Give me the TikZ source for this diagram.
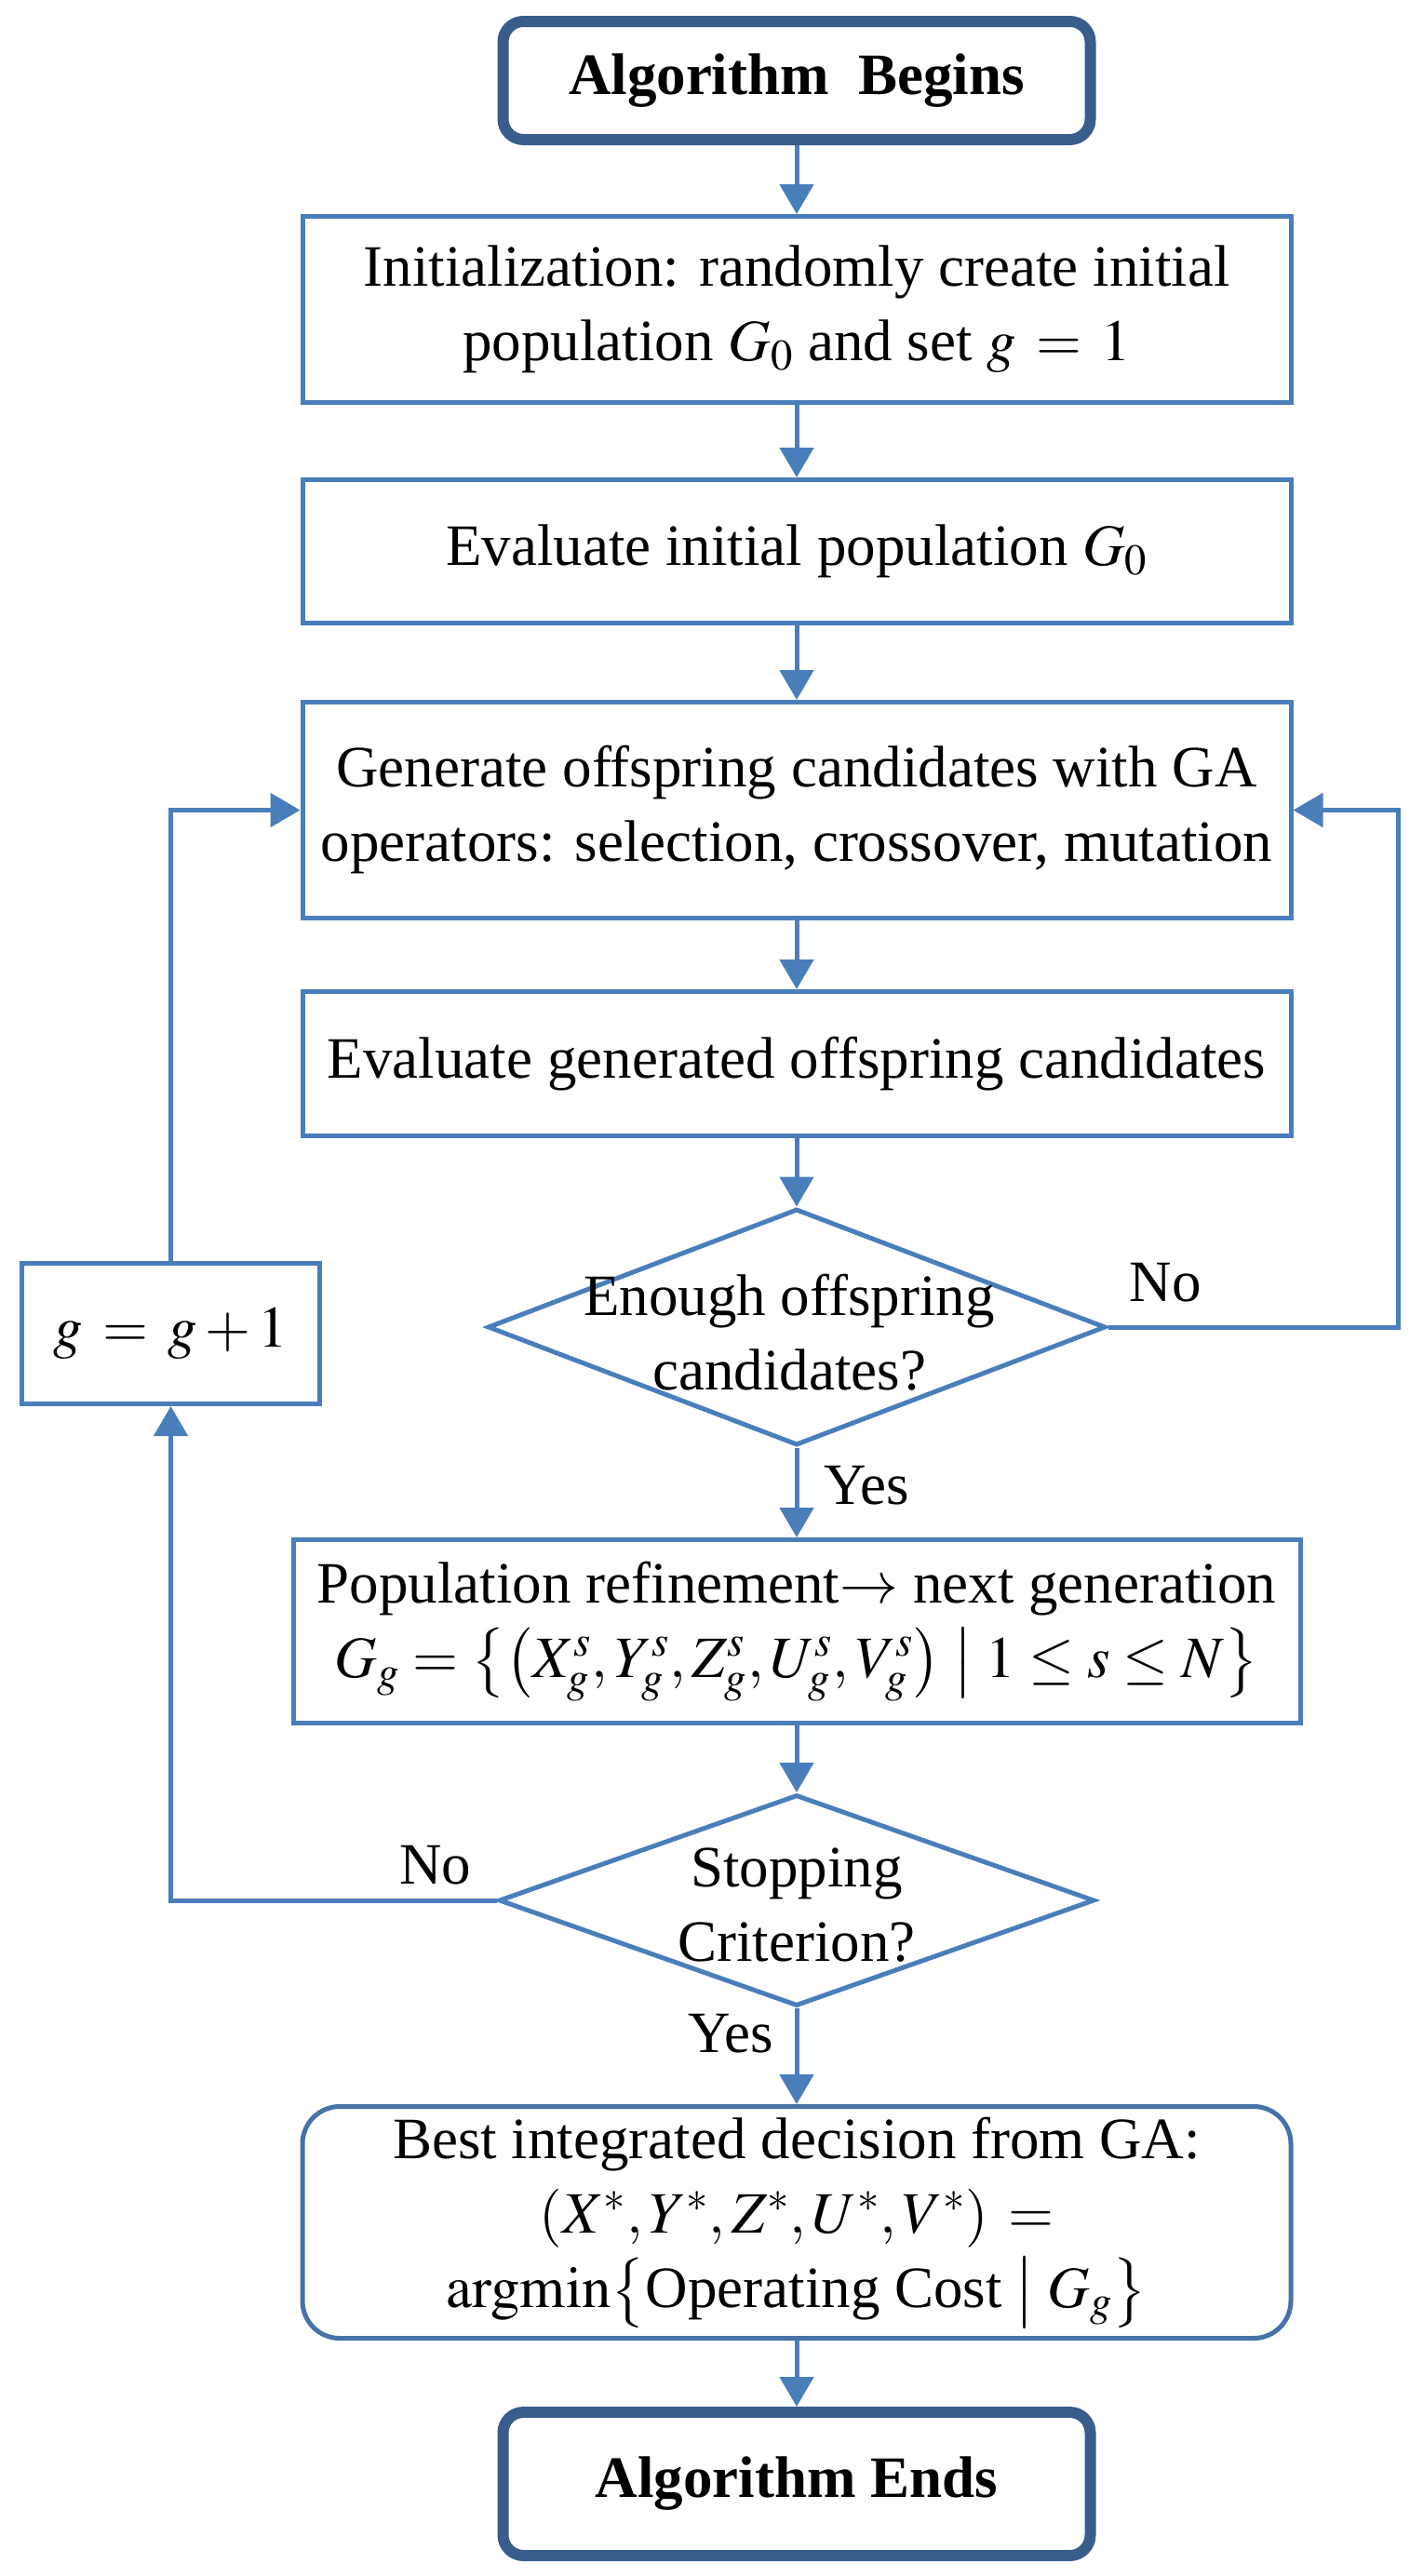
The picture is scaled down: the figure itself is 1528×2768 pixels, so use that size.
\documentclass[tikz,border=0pt]{standalone}
\usepackage{amsmath}
\usepackage{mathptmx}
\usepackage{fontspec}
\setmainfont{Liberation Serif}
\usetikzlibrary{arrows.meta,shapes.geometric}
\definecolor{lineblue}{RGB}{74,126,187}
\definecolor{termblue}{RGB}{56,93,138}
\definecolor{bestblue}{RGB}{70,114,168}
\begin{document}
\begin{tikzpicture}[x=0.5pt,y=-0.5pt,
  font=\fontsize{31.5}{40}\selectfont,
  box/.style={draw=lineblue, line width=2.5pt, rectangle, minimum width=531pt, inner sep=0pt, align=center},
  term/.style={draw=termblue, line width=6pt, rounded corners=11pt, minimum width=315.5pt, minimum height=63.5pt, inner sep=0pt, font=\fontsize{31.5}{40}\selectfont\bfseries},
  dia/.style={draw=lineblue, line width=2.5pt, diamond, inner sep=0pt},
  conn/.style={draw=lineblue, line width=2.5pt, -{Triangle[length=16pt,width=18pt]}},
  lbl/.style={inner sep=0pt}
]
\useasboundingbox (0,0) rectangle (1528,2768);

\node[term] (begin) at (856,86.5) {Algorithm\ \ Begins};
\node[box, minimum height=100pt] (init) at (856,332.5) {Initialization: randomly create initial\\ population $G_0$ and set $g\,=\,1$};
\node[box, minimum height=77pt] (evi) at (856,592.5) {Evaluate initial population $G_0$};
\node[box, minimum height=116pt] (gen) at (856,870.5) {Generate offspring candidates with GA\\ operators: selection, crossover, mutation};
\node[box, minimum height=77.5pt] (evg) at (856,1143) {Evaluate generated offspring candidates};
\node[dia, minimum width=332pt, minimum height=127pt] (d1) at (856,1426) {};
\node[align=center, inner sep=0pt] (d1t) at (848,1432) {Enough offspring\\ candidates?};
\node[box, minimum width=160pt, minimum height=75.5pt] (gbox) at (183.5,1433) {$g\,=\,g+1$};
\node[box, minimum width=541pt, minimum height=98.5pt] (pop) at (856,1753) {Population refinement$\rightarrow$ next generation\\ $G_g=\bigl\{\bigl(X_g^s,Y_g^s,Z_g^s,U_g^s,V_g^s\bigr)\bigm|1\le s\le N\bigr\}$};
\node[dia, minimum width=320pt, minimum height=113.5pt] (d2) at (856,2042) {};
\node[align=center, inner sep=0pt] (d2t) at (856,2047) {Stopping\\ Criterion?};
\node[box, draw=bestblue, rounded corners=20pt, minimum height=124.5pt] (best) at (856,2388) {Best integrated decision from GA:\\ $(X^*,Y^*,Z^*,U^*,V^*)\,=$\\ $\mathrm{argmin}\bigl\{\text{Operating Cost}\bigm| G_g\bigr\}$};
\node[term, minimum height=77pt] (end) at (856,2669) {Algorithm Ends};

\coordinate (rc) at (1502,870.5);

\draw[conn] (begin) -- (init);
\draw[conn] (init) -- (evi);
\draw[conn] (evi) -- (gen);
\draw[conn] (gen) -- (evg);
\draw[conn] (evg) -- (d1.north);
\draw[conn] (d1.south) -- (pop);
\draw[conn] (pop) -- (d2.north);
\draw[conn] (d2.south) -- (best);
\draw[conn] (best) -- (end);
\draw[conn] (d1.east) -| (rc) -- (gen.east);
\draw[conn] (d2.west) -| (gbox.south);
\draw[conn] (gbox.north) |- (gen.west);

\node[lbl] (no1) at (1252,1378) {No};
\node[lbl] (yes1) at (931,1596) {Yes};
\node[lbl] (no2) at (468,2004) {No};
\node[lbl] (yes2) at (785,2185) {Yes};
\end{tikzpicture}
\end{document}
